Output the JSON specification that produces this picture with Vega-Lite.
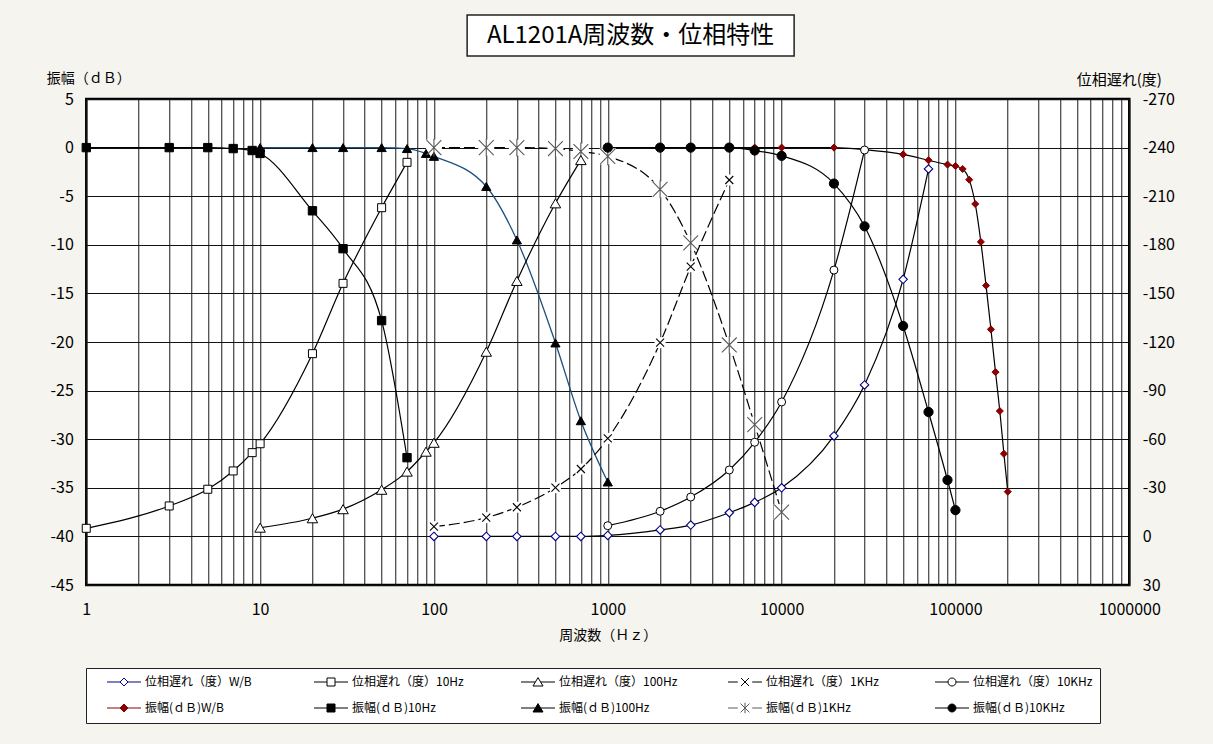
{
  "$schema": "https://vega.github.io/schema/vega-lite/v6.json",
  "background": "#f6f4ef",
  "padding": {"left": 45, "top": 14, "right": 40, "bottom": 22},
  "spacing": 12,
  "center": true,
  "config": {
    "font": "Noto Sans CJK JP",
    "axis": {
      "ticks": false,
      "domain": false,
      "labelFont": "Noto Sans CJK JP",
      "labelFontSize": 16,
      "labelColor": "black",
      "titleFont": "Noto Sans CJK JP",
      "titleFontSize": 14,
      "titleFontWeight": "normal",
      "titleColor": "black",
      "labelFlush": false,
      "labelOverlap": false,
      "gridColor": "#111111",
      "gridOpacity": 1,
      "gridWidth": 1
    }
  },
  "datasets": {
    "amp": [
      {"f": 5000, "v": 0, "s": "振幅(ｄＢ)W/B"},
      {"f": 7000, "v": 0, "s": "振幅(ｄＢ)W/B"},
      {"f": 10000, "v": 0, "s": "振幅(ｄＢ)W/B"},
      {"f": 20000, "v": 0, "s": "振幅(ｄＢ)W/B"},
      {"f": 30000, "v": -0.2, "s": "振幅(ｄＢ)W/B"},
      {"f": 50000, "v": -0.7, "s": "振幅(ｄＢ)W/B"},
      {"f": 70000, "v": -1.3, "s": "振幅(ｄＢ)W/B"},
      {"f": 90000, "v": -1.75, "s": "振幅(ｄＢ)W/B"},
      {"f": 100000, "v": -1.9, "s": "振幅(ｄＢ)W/B"},
      {"f": 110000, "v": -2.2, "s": "振幅(ｄＢ)W/B"},
      {"f": 120000, "v": -3.3, "s": "振幅(ｄＢ)W/B"},
      {"f": 130000, "v": -5.8, "s": "振幅(ｄＢ)W/B"},
      {"f": 140000, "v": -9.7, "s": "振幅(ｄＢ)W/B"},
      {"f": 150000, "v": -14.2, "s": "振幅(ｄＢ)W/B"},
      {"f": 160000, "v": -18.7, "s": "振幅(ｄＢ)W/B"},
      {"f": 170000, "v": -23.1, "s": "振幅(ｄＢ)W/B"},
      {"f": 180000, "v": -27.1, "s": "振幅(ｄＢ)W/B"},
      {"f": 190000, "v": -31.5, "s": "振幅(ｄＢ)W/B"},
      {"f": 200000, "v": -35.4, "s": "振幅(ｄＢ)W/B"},
      {"f": 1, "v": 0, "s": "振幅(ｄＢ)10Hz"},
      {"f": 3, "v": 0, "s": "振幅(ｄＢ)10Hz"},
      {"f": 5, "v": 0, "s": "振幅(ｄＢ)10Hz"},
      {"f": 7, "v": -0.1, "s": "振幅(ｄＢ)10Hz"},
      {"f": 9, "v": -0.3, "s": "振幅(ｄＢ)10Hz"},
      {"f": 10, "v": -0.6, "s": "振幅(ｄＢ)10Hz"},
      {"f": 20, "v": -6.5, "s": "振幅(ｄＢ)10Hz"},
      {"f": 30, "v": -10.4, "s": "振幅(ｄＢ)10Hz"},
      {"f": 50, "v": -17.8, "s": "振幅(ｄＢ)10Hz"},
      {"f": 70, "v": -31.9, "s": "振幅(ｄＢ)10Hz"},
      {"f": 10, "v": 0, "s": "振幅(ｄＢ)100Hz"},
      {"f": 20, "v": 0, "s": "振幅(ｄＢ)100Hz"},
      {"f": 30, "v": 0, "s": "振幅(ｄＢ)100Hz"},
      {"f": 50, "v": 0, "s": "振幅(ｄＢ)100Hz"},
      {"f": 70, "v": -0.1, "s": "振幅(ｄＢ)100Hz"},
      {"f": 90, "v": -0.6, "s": "振幅(ｄＢ)100Hz"},
      {"f": 100, "v": -0.9, "s": "振幅(ｄＢ)100Hz"},
      {"f": 200, "v": -4.0, "s": "振幅(ｄＢ)100Hz"},
      {"f": 300, "v": -9.5, "s": "振幅(ｄＢ)100Hz"},
      {"f": 500, "v": -20.1, "s": "振幅(ｄＢ)100Hz"},
      {"f": 700, "v": -28.1, "s": "振幅(ｄＢ)100Hz"},
      {"f": 1000, "v": -34.4, "s": "振幅(ｄＢ)100Hz"},
      {"f": 100, "v": 0, "s": "振幅(ｄＢ)1KHz"},
      {"f": 200, "v": 0, "s": "振幅(ｄＢ)1KHz"},
      {"f": 300, "v": 0, "s": "振幅(ｄＢ)1KHz"},
      {"f": 500, "v": -0.1, "s": "振幅(ｄＢ)1KHz"},
      {"f": 700, "v": -0.4, "s": "振幅(ｄＢ)1KHz"},
      {"f": 1000, "v": -0.9, "s": "振幅(ｄＢ)1KHz"},
      {"f": 2000, "v": -4.3, "s": "振幅(ｄＢ)1KHz"},
      {"f": 3000, "v": -9.8, "s": "振幅(ｄＢ)1KHz"},
      {"f": 5000, "v": -20.3, "s": "振幅(ｄＢ)1KHz"},
      {"f": 7000, "v": -28.5, "s": "振幅(ｄＢ)1KHz"},
      {"f": 10000, "v": -37.5, "s": "振幅(ｄＢ)1KHz"},
      {"f": 1000, "v": 0, "s": "振幅(ｄＢ)10KHz"},
      {"f": 2000, "v": 0, "s": "振幅(ｄＢ)10KHz"},
      {"f": 3000, "v": 0, "s": "振幅(ｄＢ)10KHz"},
      {"f": 5000, "v": 0, "s": "振幅(ｄＢ)10KHz"},
      {"f": 7000, "v": -0.3, "s": "振幅(ｄＢ)10KHz"},
      {"f": 10000, "v": -0.85, "s": "振幅(ｄＢ)10KHz"},
      {"f": 20000, "v": -3.7, "s": "振幅(ｄＢ)10KHz"},
      {"f": 30000, "v": -8.1, "s": "振幅(ｄＢ)10KHz"},
      {"f": 50000, "v": -18.35, "s": "振幅(ｄＢ)10KHz"},
      {"f": 70000, "v": -27.2, "s": "振幅(ｄＢ)10KHz"},
      {"f": 90000, "v": -34.2, "s": "振幅(ｄＢ)10KHz"},
      {"f": 100000, "v": -37.3, "s": "振幅(ｄＢ)10KHz"}
    ],
    "phase": [
      {"f": 100, "v": 0, "s": "位相遅れ（度）W/B"},
      {"f": 200, "v": 0, "s": "位相遅れ（度）W/B"},
      {"f": 300, "v": 0, "s": "位相遅れ（度）W/B"},
      {"f": 500, "v": 0, "s": "位相遅れ（度）W/B"},
      {"f": 700, "v": 0, "s": "位相遅れ（度）W/B"},
      {"f": 1000, "v": -0.6, "s": "位相遅れ（度）W/B"},
      {"f": 2000, "v": -4, "s": "位相遅れ（度）W/B"},
      {"f": 3000, "v": -7, "s": "位相遅れ（度）W/B"},
      {"f": 5000, "v": -14.6, "s": "位相遅れ（度）W/B"},
      {"f": 7000, "v": -21, "s": "位相遅れ（度）W/B"},
      {"f": 10000, "v": -30, "s": "位相遅れ（度）W/B"},
      {"f": 20000, "v": -62, "s": "位相遅れ（度）W/B"},
      {"f": 30000, "v": -93.5, "s": "位相遅れ（度）W/B"},
      {"f": 50000, "v": -158.7, "s": "位相遅れ（度）W/B"},
      {"f": 70000, "v": -226.8, "s": "位相遅れ（度）W/B"},
      {"f": 1, "v": -5, "s": "位相遅れ（度）10Hz"},
      {"f": 3, "v": -18.8, "s": "位相遅れ（度）10Hz"},
      {"f": 5, "v": -29.1, "s": "位相遅れ（度）10Hz"},
      {"f": 7, "v": -40.4, "s": "位相遅れ（度）10Hz"},
      {"f": 9, "v": -51.7, "s": "位相遅れ（度）10Hz"},
      {"f": 10, "v": -57.2, "s": "位相遅れ（度）10Hz"},
      {"f": 20, "v": -112.8, "s": "位相遅れ（度）10Hz"},
      {"f": 30, "v": -156.2, "s": "位相遅れ（度）10Hz"},
      {"f": 50, "v": -202.9, "s": "位相遅れ（度）10Hz"},
      {"f": 70, "v": -230.9, "s": "位相遅れ（度）10Hz"},
      {"f": 10, "v": -5.4, "s": "位相遅れ（度）100Hz"},
      {"f": 20, "v": -11.2, "s": "位相遅れ（度）100Hz"},
      {"f": 30, "v": -16.8, "s": "位相遅れ（度）100Hz"},
      {"f": 50, "v": -28.8, "s": "位相遅れ（度）100Hz"},
      {"f": 70, "v": -40, "s": "位相遅れ（度）100Hz"},
      {"f": 90, "v": -52.3, "s": "位相遅れ（度）100Hz"},
      {"f": 100, "v": -57.8, "s": "位相遅れ（度）100Hz"},
      {"f": 200, "v": -114, "s": "位相遅れ（度）100Hz"},
      {"f": 300, "v": -157.7, "s": "位相遅れ（度）100Hz"},
      {"f": 500, "v": -205.6, "s": "位相遅れ（度）100Hz"},
      {"f": 700, "v": -232.3, "s": "位相遅れ（度）100Hz"},
      {"f": 100, "v": -6, "s": "位相遅れ（度）1KHz"},
      {"f": 200, "v": -11.6, "s": "位相遅れ（度）1KHz"},
      {"f": 300, "v": -18, "s": "位相遅れ（度）1KHz"},
      {"f": 500, "v": -30.1, "s": "位相遅れ（度）1KHz"},
      {"f": 700, "v": -41.6, "s": "位相遅れ（度）1KHz"},
      {"f": 1000, "v": -60.5, "s": "位相遅れ（度）1KHz"},
      {"f": 2000, "v": -119.6, "s": "位相遅れ（度）1KHz"},
      {"f": 3000, "v": -166.5, "s": "位相遅れ（度）1KHz"},
      {"f": 5000, "v": -220, "s": "位相遅れ（度）1KHz"},
      {"f": 1000, "v": -6.6, "s": "位相遅れ（度）10KHz"},
      {"f": 2000, "v": -15.5, "s": "位相遅れ（度）10KHz"},
      {"f": 3000, "v": -24.3, "s": "位相遅れ（度）10KHz"},
      {"f": 5000, "v": -41, "s": "位相遅れ（度）10KHz"},
      {"f": 7000, "v": -58.1, "s": "位相遅れ（度）10KHz"},
      {"f": 10000, "v": -83, "s": "位相遅れ（度）10KHz"},
      {"f": 20000, "v": -164.4, "s": "位相遅れ（度）10KHz"},
      {"f": 30000, "v": -238.5, "s": "位相遅れ（度）10KHz"}
    ]
  },
  "vconcat": [
    {
      "width": 327,
      "height": 41,
      "view": {"fill": "white", "stroke": "#222222", "strokeWidth": 1.5},
      "data": {"values": [{"t": "AL1201A周波数・位相特性"}]},
      "mark": {"type": "text", "font": "Noto Sans CJK JP", "fontSize": 24, "align": "center", "baseline": "middle", "color": "black"},
      "encoding": {
        "text": {"field": "t", "type": "nominal"},
        "x": {"field": "t", "type": "nominal", "axis": null},
        "y": {"field": "t", "type": "nominal", "axis": null}
      }
    },
    {
      "width": 1043,
      "height": 486,
      "view": {"fill": "white", "stroke": "black", "strokeWidth": 2.5},
      "resolve": {"scale": {"y": "independent"}},
      "layer": [
        {
          "data": {"name": "amp"},
          "encoding": {
            "x": {"field": "f", "type": "quantitative", "scale": {"type": "log", "domain": [1, 1000000], "nice": false}},
            "y": {"field": "v", "type": "quantitative", "scale": {"domain": [-45, 5], "nice": false, "zero": false}}
          },
          "layer": [
            {
              "transform": [{"filter": "datum.s !== '振幅(ｄＢ)100Hz' && datum.s !== '振幅(ｄＢ)1KHz'"}],
              "mark": {"type": "line", "interpolate": "monotone", "color": "black", "strokeWidth": 1.2},
              "encoding": {
                "x": {"field": "f", "type": "quantitative", "scale": {"type": "log", "domain": [1, 1000000], "nice": false},
                  "axis": {
                    "values": [1,2,3,4,5,6,7,8,9,10,20,30,40,50,60,70,80,90,100,200,300,400,500,600,700,800,900,1000,2000,3000,4000,5000,6000,7000,8000,9000,10000,20000,30000,40000,50000,60000,70000,80000,90000,100000,200000,300000,400000,500000,600000,700000,800000,900000,1000000],
                    "grid": true,
                    "gridColor": "#1a1a1a",
                    "labelExpr": "indexof([1,10,100,1000,10000,100000,1000000], datum.value) >= 0 ? '' + datum.value : ''",
                    "labelPadding": 16,
                    "title": "周波数（Ｈｚ）",
                    "titlePadding": 11
                  }},
                "y": {"field": "v", "type": "quantitative", "scale": {"domain": [-45, 5], "nice": false, "zero": false},
                  "axis": {
                    "orient": "left",
                    "values": [-45,-40,-35,-30,-25,-20,-15,-10,-5,0,5],
                    "grid": true,
                    "labelExpr": "'' + datum.value",
                    "labelPadding": 13,
                    "title": "振幅（ｄＢ）",
                    "titleAngle": 0,
                    "titleAlign": "left",
                    "titleBaseline": "middle",
                    "titleX": -40,
                    "titleY": -21
                  }},
                "detail": {"field": "s", "type": "nominal"}
              }
            },
            {
              "transform": [{"filter": "datum.s === '振幅(ｄＢ)100Hz'"}],
              "mark": {"type": "line", "interpolate": "monotone", "color": "#1d4f80", "strokeWidth": 1.3}
            },
            {
              "transform": [{"filter": "datum.s === '振幅(ｄＢ)1KHz'"}],
              "mark": {"type": "line", "interpolate": "monotone", "color": "black", "strokeWidth": 1.2, "strokeDash": [11, 4]}
            },
            {
              "transform": [{"filter": "datum.s === '振幅(ｄＢ)1KHz'"}],
              "mark": {"type": "point", "shape": "square", "filled": true, "color": "white", "strokeWidth": 0, "size": 256, "opacity": 1}
            },
            {
              "mark": {"type": "point", "filled": true, "strokeWidth": 1, "opacity": 0},
              "encoding": {
                "shape": {"field": "s", "type": "nominal",
                  "scale": {"domain": ["位相遅れ（度）W/B","位相遅れ（度）10Hz","位相遅れ（度）100Hz","位相遅れ（度）1KHz","位相遅れ（度）10KHz","振幅(ｄＢ)W/B","振幅(ｄＢ)10Hz","振幅(ｄＢ)100Hz","振幅(ｄＢ)1KHz","振幅(ｄＢ)10KHz"],
                    "range": [
                      "M-4.25,0H-1M1,0H4.25M0,-1L1,0L0,1L-1,0Z",
                      "M-4.25,0H-1M1,0H4.25M-1,-1H1V1H-1Z",
                      "M-4.25,0H-0.7M0.7,0H4.25M0,-1.1L1.25,1L-1.25,1Z",
                      "M-4.25,0H-1.8M1.8,0H4.25M-1,-1L1,1M-1,1L1,-1",
                      "M-4.25,0H-1M1,0H4.25M1,0A1,1,0,1,1,-1,0A1,1,0,1,1,1,0Z",
                      "M-4.25,0H-1M1,0H4.25M0,-1L1,0L0,1L-1,0Z",
                      "M-4.25,0H-1M1,0H4.25M-1,-1H1V1H-1Z",
                      "M-4.25,0H-0.7M0.7,0H4.25M0,-1.1L1.25,1L-1.25,1Z",
                      "M-4.25,0H-1.8M1.8,0H4.25M-1.1,-1.1L1.1,1.1M-1.1,1.1L1.1,-1.1M0,-1.3V1.3",
                      "M-4.25,0H-1M1,0H4.25M1,0A1,1,0,1,1,-1,0A1,1,0,1,1,1,0Z"
                    ]},
                  "legend": {
                    "title": null,
                    "orient": "bottom",
                    "offset": 24,
                    "direction": "horizontal",
                    "columns": 5,
                    "gridAlign": "all",
                    "columnPadding": 35,
                    "rowPadding": 11,
                    "padding": 7,
                    "symbolSize": 64,
                    "symbolOffset": 25,
                    "labelOffset": 15,
                    "symbolStrokeWidth": 1,
                    "symbolOpacity": 1,
                    "labelFont": "Noto Sans CJK JP",
                    "labelFontSize": 12,
                    "labelColor": "black",
                    "labelLimit": 300,
                    "strokeColor": "#222222",
                    "fillColor": "white"
                  }},
                "fill": {"field": "s", "type": "nominal",
                  "scale": {"domain": ["位相遅れ（度）W/B","位相遅れ（度）10Hz","位相遅れ（度）100Hz","位相遅れ（度）1KHz","位相遅れ（度）10KHz","振幅(ｄＢ)W/B","振幅(ｄＢ)10Hz","振幅(ｄＢ)100Hz","振幅(ｄＢ)1KHz","振幅(ｄＢ)10KHz"],
                    "range": ["white","white","white","white","white","#8b0000","black","black","white","black"]}},
                "stroke": {"field": "s", "type": "nominal",
                  "scale": {"domain": ["位相遅れ（度）W/B","位相遅れ（度）10Hz","位相遅れ（度）100Hz","位相遅れ（度）1KHz","位相遅れ（度）10KHz","振幅(ｄＢ)W/B","振幅(ｄＢ)10Hz","振幅(ｄＢ)100Hz","振幅(ｄＢ)1KHz","振幅(ｄＢ)10KHz"],
                    "range": ["#00008b","black","black","black","black","#8b0000","black","black","#5a5a5a","black"]}}
              }
            },
            {
              "transform": [{"filter": "datum.s === '振幅(ｄＢ)W/B'"}],
              "mark": {"type": "point", "shape": "diamond", "filled": true, "fill": "#8b0000", "stroke": "#8b0000", "strokeWidth": 1, "size": 50, "opacity": 1}
            },
            {
              "transform": [{"filter": "datum.s === '振幅(ｄＢ)10Hz'"}],
              "mark": {"type": "point", "shape": "square", "filled": true, "fill": "black", "stroke": "black", "strokeWidth": 1, "size": 70, "opacity": 1}
            },
            {
              "transform": [{"filter": "datum.s === '振幅(ｄＢ)100Hz'"}],
              "mark": {"type": "point", "shape": "triangle-up", "filled": true, "fill": "black", "stroke": "black", "strokeWidth": 1, "size": 85, "opacity": 1}
            },
            {
              "transform": [{"filter": "datum.s === '振幅(ｄＢ)1KHz'"}],
              "mark": {"type": "point", "shape": "M-1,-1L1,1M-1,1L1,-1M0,-1.2L0,1.2", "filled": false, "stroke": "#5a5a5a", "strokeWidth": 1.1, "size": 220, "opacity": 1}
            },
            {
              "transform": [{"filter": "datum.s === '振幅(ｄＢ)10KHz'"}],
              "mark": {"type": "point", "shape": "circle", "filled": true, "fill": "black", "stroke": "black", "strokeWidth": 1, "size": 85, "opacity": 1}
            }
          ]
        },
        {
          "data": {"name": "phase"},
          "encoding": {
            "x": {"field": "f", "type": "quantitative", "scale": {"type": "log", "domain": [1, 1000000], "nice": false}},
            "y": {"field": "v", "type": "quantitative", "scale": {"domain": [-270, 30], "reverse": true, "nice": false, "zero": false}}
          },
          "layer": [
            {
              "transform": [{"filter": "datum.s !== '位相遅れ（度）1KHz'"}],
              "mark": {"type": "line", "interpolate": "monotone", "color": "black", "strokeWidth": 1.2},
              "encoding": {
                "y": {"field": "v", "type": "quantitative", "scale": {"domain": [-270, 30], "reverse": true, "nice": false, "zero": false},
                  "axis": {
                    "orient": "right",
                    "values": [-270,-240,-210,-180,-150,-120,-90,-60,-30,0,30],
                    "grid": false,
                    "labelExpr": "'' + datum.value",
                    "labelPadding": 13,
                    "labelAlign": "left",
                    "title": "位相遅れ(度)",
                    "titleFontSize": 15,
                    "titleAngle": 0,
                    "titleAlign": "left",
                    "titleBaseline": "middle",
                    "titleX": -53,
                    "titleY": -20
                  }},
                "detail": {"field": "s", "type": "nominal"}
              }
            },
            {
              "transform": [{"filter": "datum.s === '位相遅れ（度）1KHz'"}],
              "mark": {"type": "line", "interpolate": "monotone", "color": "black", "strokeWidth": 1.2, "strokeDash": [11, 4]}
            },
            {
              "transform": [{"filter": "datum.s === '位相遅れ（度）1KHz'"}],
              "mark": {"type": "point", "shape": "square", "filled": true, "color": "white", "strokeWidth": 0, "size": 121, "opacity": 1}
            },
            {
              "transform": [{"filter": "datum.s === '位相遅れ（度）W/B'"}],
              "mark": {"type": "point", "shape": "diamond", "filled": true, "fill": "white", "stroke": "#00008b", "strokeWidth": 1.1, "size": 72, "opacity": 1}
            },
            {
              "transform": [{"filter": "datum.s === '位相遅れ（度）10Hz'"}],
              "mark": {"type": "point", "shape": "square", "filled": true, "fill": "white", "stroke": "black", "strokeWidth": 1, "size": 64, "opacity": 1}
            },
            {
              "transform": [{"filter": "datum.s === '位相遅れ（度）100Hz'"}],
              "mark": {"type": "point", "shape": "triangle-up", "filled": true, "fill": "white", "stroke": "black", "strokeWidth": 1, "size": 110, "opacity": 1}
            },
            {
              "transform": [{"filter": "datum.s === '位相遅れ（度）1KHz'"}],
              "mark": {"type": "point", "shape": "M-1,-1L1,1M-1,1L1,-1", "filled": false, "stroke": "black", "strokeWidth": 1.1, "size": 64, "opacity": 1}
            },
            {
              "transform": [{"filter": "datum.s === '位相遅れ（度）10KHz'"}],
              "mark": {"type": "point", "shape": "circle", "filled": true, "fill": "white", "stroke": "black", "strokeWidth": 1, "size": 64, "opacity": 1}
            }
          ]
        }
      ]
    }
  ]
}
